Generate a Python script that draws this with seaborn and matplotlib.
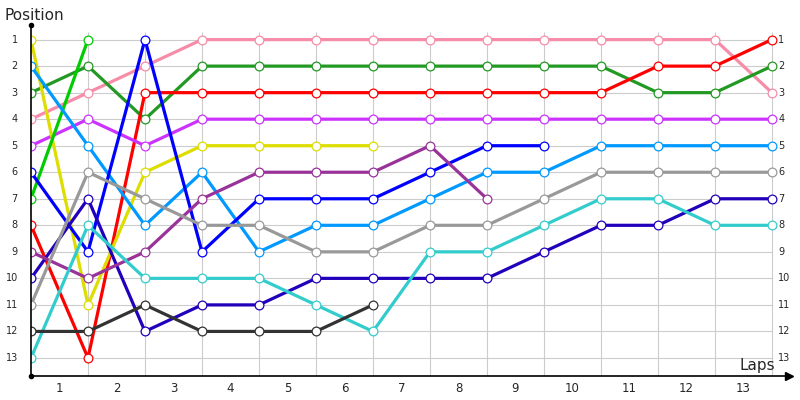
import pandas as pd
import matplotlib
matplotlib.use("Agg")
import matplotlib.pyplot as plt
import seaborn as sns

# lap index 0..13 (gridlines), positions per driver; None = retired
laps = list(range(14))
drivers = ["Pink", "Green", "Red", "Violet", "Yellow", "Lime", "Sky",
           "Blue", "Navy", "Purple", "Gray", "Teal", "Dark"]
colors = ["#f78ca8", "#229922", "#ff0000", "#cc33ff", "#dddd00", "#00cc00", "#0099ff",
          "#0000ff", "#2200bb", "#993399", "#999999", "#33cccc", "#333333"]

pink = [4, 3, 2, 1, 1, 1, 1, 1, 1, 1, 1, 1, 1, 3]
green = [3, 2, 4, 2, 2, 2, 2, 2, 2, 2, 2, 3, 3, 2]
red = [8, 13, 3, 3, 3, 3, 3, 3, 3, 3, 3, 2, 2, 1]
violet = [5, 4, 5, 4, 4, 4, 4, 4, 4, 4, 4, 4, 4, 4]
yellow = [1, 11, 6, 5, 5, 5, 5]
lime = [7, 1]
sky = [2, 5, 8, 6, 9, 8, 8, 7, 6, 6, 5, 5, 5, 5]
blue = [6, 9, 1, 9, 7, 7, 7, 6, 5, 5]
navy = [10, 7, 12, 11, 11, 10, 10, 10, 10, 9, 8, 8, 7, 7]
purple = [9, 10, 9, 7, 6, 6, 6, 5, 7]
gray = [11, 6, 7, 8, 8, 9, 9, 8, 8, 7, 6, 6, 6, 6]
teal = [13, 8, 10, 10, 10, 11, 12, 9, 9, 8, 7, 7, 8, 8]
dark = [12, 12, 11, 12, 12, 12, 11]

series = [pink, green, red, violet, yellow, lime, sky, blue, navy, purple, gray, teal, dark]
rows = []
for name, pos in zip(drivers, series):
    for lap, p in zip(laps, pos):
        rows.append({"driver": name, "lap": lap, "position": p})
df = pd.DataFrame(rows)

lap_labels = [str(i) for i in range(1, 14)]
positions = list(range(1, 14))

sns.set_style("white")
fig = plt.figure(figsize=(8, 4), dpi=100)
ax = fig.add_axes([0.03875, 0.06, 0.9475, 0.8775])

xmax, ytop, ybot = 13.3, 0.45, 13.68

# grid only over data area
ax.hlines(positions, 0, 13, color="#cccccc", lw=0.8, zorder=0)
ax.vlines(laps[1:], 0.7, ybot, color="#cccccc", lw=0.8, zorder=0)

palette = dict(zip(drivers, colors))
sns.lineplot(data=df, x="lap", y="position", hue="driver", palette=palette,
             hue_order=drivers, legend=False, linewidth=2.3, marker="o",
             markersize=6.3, ax=ax, estimator=None, sort=False)
for line in ax.lines:
    c = line.get_color()
    line.set_markerfacecolor("white")
    line.set_markeredgecolor(c)
    line.set_markeredgewidth(0.9)

ax.set_xlim(0, xmax)
ax.set_ylim(ybot, ytop)
ax.set_xticks([])
ax.set_yticks([])
ax.set_xlabel("")
ax.set_ylabel("")
for s in ["top", "right"]:
    ax.spines[s].set_visible(False)
for s in ["left", "bottom"]:
    ax.spines[s].set_color("black")
    ax.spines[s].set_linewidth(1.2)

# axis ends
ax.plot([0], [ytop], marker="o", ms=3, color="black", clip_on=False)
ax.plot([0], [ybot], marker="o", ms=3, color="black", clip_on=False)
ax.plot([xmax], [ybot], marker=">", ms=6, color="black", clip_on=False)

for p in positions:
    ax.text(-0.23, p, str(p), ha="right", va="center", fontsize=7)
    ax.text(13.11, p, str(p), ha="left", va="center", fontsize=7)
for i, lab in enumerate(lap_labels):
    ax.text(i + 0.5, 14.15, lab, ha="center", va="center", fontsize=8.5)

fig.text(0.006, 0.962, "Position", fontsize=11, va="center")
ax.text(13.05, 13.3, "Laps", fontsize=11, ha="right", va="center")

fig.savefig("out.png", dpi=100)
